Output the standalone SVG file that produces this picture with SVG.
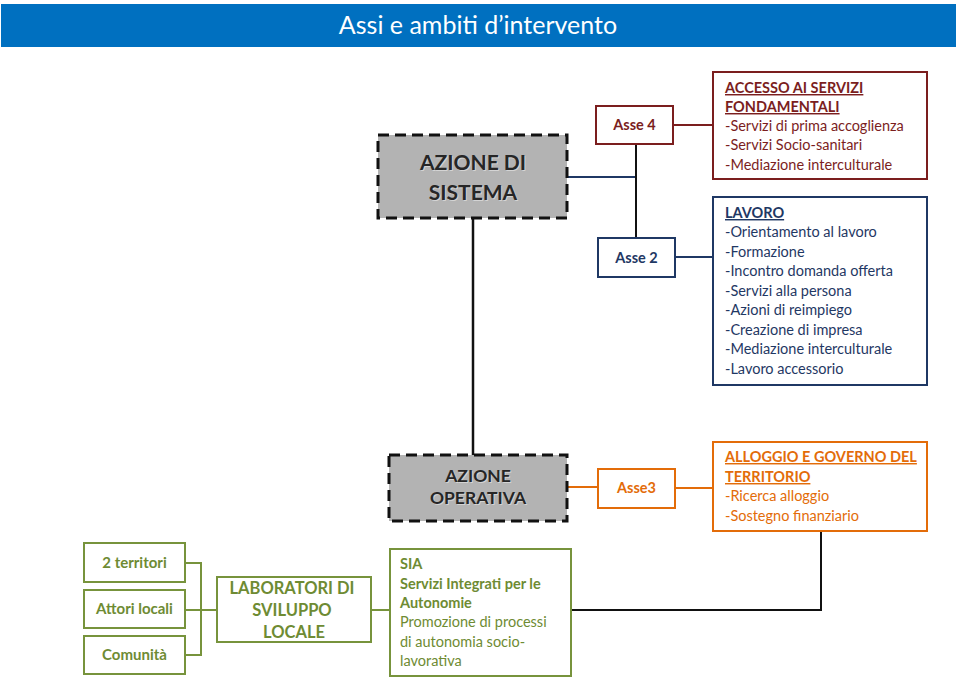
<svg xmlns="http://www.w3.org/2000/svg" width="960" height="684" viewBox="0 0 960 684">
<style>
text{font-family:Lato,"Open Sans","Liberation Sans",sans-serif}
.red{stroke:#7B1E1E;fill:#fff;stroke-width:2}
.navy{stroke:#1F3864;fill:#fff;stroke-width:2}
.org{stroke:#E36C09;fill:#fff;stroke-width:2}
.grn{stroke:#77933C;fill:#fff;stroke-width:2}
.dash{fill:#B3B3B3;stroke:#111;stroke-width:3;stroke-dasharray:11 6}
.t{font-size:14.5px}
.b{font-weight:bold}
.u{text-decoration:underline}
.cr{fill:#7B1E1E}.cn{fill:#1F3864}.co{fill:#E36C09}.cg{fill:#6E8B33}
.big{font-size:21px;font-weight:bold;fill:#262626}
.mid{font-size:17.5px;font-weight:bold;fill:#262626}
.sh{fill:#d4d4d4}
</style>
<rect x="1" y="4" width="955" height="43" fill="#0070C0"/>
<text x="478" y="34" text-anchor="middle" font-size="25" fill="#fff">Assi e ambiti d’intervento</text>

<g id="connectors" fill="none" stroke-width="2">
<line x1="567" y1="177" x2="636" y2="177" stroke="#1F3864"/>
<line x1="636" y1="144" x2="636" y2="238" stroke="#111"/>
<line x1="673" y1="125" x2="713" y2="125" stroke="#7B1E1E"/>
<line x1="675" y1="257" x2="718" y2="257" stroke="#1F3864"/>
<line x1="473" y1="218" x2="473" y2="455" stroke="#111" stroke-width="2.5"/>
<line x1="567" y1="487" x2="598" y2="487" stroke="#E36C09"/>
<line x1="675" y1="488" x2="713" y2="488" stroke="#E36C09"/>
<polyline points="821,531 821,610 571,610" stroke="#111"/>
<line x1="371" y1="610" x2="390" y2="610" stroke="#77933C"/>
<polyline points="185,563 201,563 201,655 185,655" stroke="#77933C"/>
<line x1="185" y1="610" x2="217" y2="610" stroke="#77933C"/>
</g>

<g id="azione-sistema">
<rect class="dash" x="378" y="135" width="189" height="83"/>
<text class="big sh" text-anchor="middle" x="474" y="171">AZIONE DI</text>
<text class="big sh" text-anchor="middle" x="474" y="201">SISTEMA</text>
<text class="big" text-anchor="middle" x="473" y="170">AZIONE DI</text>
<text class="big" text-anchor="middle" x="473" y="200">SISTEMA</text>
</g>

<g id="asse4">
<rect class="red" x="596" y="106" width="77" height="38"/>
<text class="t b cr" x="634.5" y="130" text-anchor="middle">Asse 4</text>
</g>

<g id="asse2">
<rect class="navy" x="598" y="238" width="77" height="39"/>
<text class="t b cn" x="636.5" y="263" text-anchor="middle">Asse 2</text>
</g>

<g id="accesso">
<rect class="red" x="713" y="72" width="214" height="107"/>
<text class="t cr" x="725">
<tspan class="b u" x="725" y="93">ACCESSO AI SERVIZI</tspan>
<tspan class="b u" x="725" y="112">FONDAMENTALI</tspan>
<tspan x="725" y="131">-Servizi di prima accoglienza</tspan>
<tspan x="725" y="150">-Servizi Socio-sanitari</tspan>
<tspan x="725" y="170">-Mediazione interculturale</tspan>
</text>
</g>

<g id="lavoro">
<rect class="navy" x="713" y="197" width="214" height="188"/>
<text class="t cn" x="725">
<tspan class="b u" x="725" y="218">LAVORO</tspan>
<tspan x="725" y="237">-Orientamento al lavoro</tspan>
<tspan x="725" y="257">-Formazione</tspan>
<tspan x="725" y="276">-Incontro domanda offerta</tspan>
<tspan x="725" y="296">-Servizi alla persona</tspan>
<tspan x="725" y="315">-Azioni di reimpiego</tspan>
<tspan x="725" y="335">-Creazione di impresa</tspan>
<tspan x="725" y="354">-Mediazione interculturale</tspan>
<tspan x="725" y="374">-Lavoro accessorio</tspan>
</text>
</g>

<g id="azione-operativa">
<rect class="dash" x="389" y="455" width="178" height="66"/>
<text class="mid sh" text-anchor="middle" x="479" y="483">AZIONE</text>
<text class="mid sh" text-anchor="middle" x="479" y="505">OPERATIVA</text>
<text class="mid" text-anchor="middle" x="478" y="482">AZIONE</text>
<text class="mid" text-anchor="middle" x="478" y="504">OPERATIVA</text>
</g>

<g id="asse3">
<rect class="org" x="598" y="469" width="77" height="39"/>
<text class="t b co" x="636.5" y="493" text-anchor="middle">Asse3</text>
</g>

<g id="alloggio">
<rect class="org" x="713" y="442" width="214" height="89"/>
<text class="t co" x="725">
<tspan class="b u" x="725" y="462">ALLOGGIO E GOVERNO DEL</tspan>
<tspan class="b u" x="725" y="482">TERRITORIO</tspan>
<tspan x="725" y="501">-Ricerca alloggio</tspan>
<tspan x="725" y="521">-Sostegno finanziario</tspan>
</text>
</g>

<g id="territori">
<rect class="grn" x="84" y="543" width="101" height="39"/>
<text class="b cg" font-size="15" x="134.5" y="568" text-anchor="middle">2 territori</text>
</g>
<g id="attori">
<rect class="grn" x="84" y="590" width="101" height="38"/>
<text class="b cg" font-size="15" x="134.5" y="614" text-anchor="middle">Attori locali</text>
</g>
<g id="comunita">
<rect class="grn" x="84" y="636" width="101" height="38"/>
<text class="b cg" font-size="15" x="134.5" y="660" text-anchor="middle">Comunità</text>
</g>

<g id="laboratori">
<rect class="grn" x="217" y="577" width="154" height="65"/>
<text class="b cg" font-size="16.5" text-anchor="middle">
<tspan x="294" y="594">LABORATORI DI</tspan>
<tspan x="294" y="616">SVILUPPO</tspan>
<tspan x="294" y="638">LOCALE</tspan>
</text>
</g>

<g id="sia">
<rect class="grn" x="390" y="549" width="181" height="127"/>
<text class="t cg" x="400">
<tspan class="b" x="400" y="569">SIA</tspan>
<tspan class="b" x="400" y="589">Servizi Integrati per le</tspan>
<tspan class="b" x="400" y="608">Autonomie</tspan>
<tspan x="400" y="627">Promozione di processi</tspan>
<tspan x="400" y="647">di autonomia socio-</tspan>
<tspan x="400" y="666">lavorativa</tspan>
</text>
</g>
</svg>
